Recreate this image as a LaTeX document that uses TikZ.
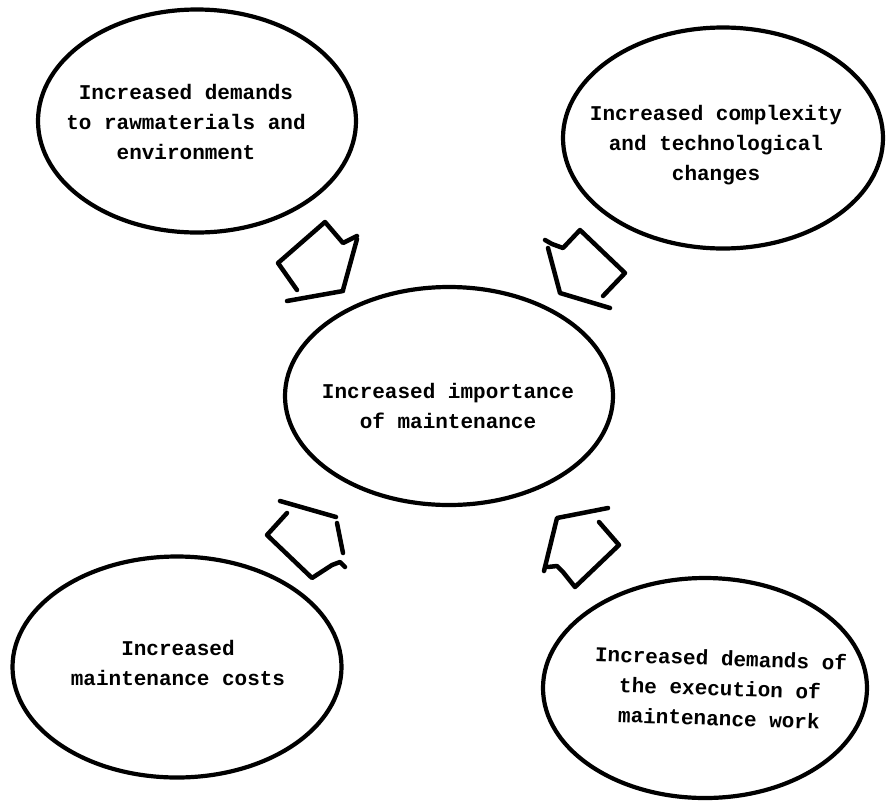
\documentclass[tikz,border=0pt]{standalone}
\usepackage{fontspec}
\newfontfamily\twfont{Liberation Mono}
\usetikzlibrary{shapes.geometric}
\tikzset{
  bubble/.style={draw=black, line width=4.2pt, ellipse, inner sep=0pt},
  label/.style={font=\twfont\bfseries\fontsize{21}{30}\selectfont, align=center, text=black, inner sep=0pt},
  sketch/.style={draw=black, line width=4.5pt, line cap=round, line join=round}
}
\begin{document}
\begin{tikzpicture}[x=1pt,y=-1pt]
\useasboundingbox (0,0) rectangle (891,801);
\fill[white] (0,0) rectangle (891,801);
% ellipses
\node[bubble, minimum width=318pt, minimum height=223pt] (tl) at (197,121) {};
\node[bubble, minimum width=320pt, minimum height=221pt] (tr) at (723,138) {};
\node[bubble, minimum width=328pt, minimum height=218pt] (mid) at (449,396) {};
\node[bubble, minimum width=329pt, minimum height=221pt] (bl) at (177,667) {};
\node[bubble, minimum width=324pt, minimum height=220pt] (br) at (705,688) {};
% texts
\node[label] (tltext) at (186,122) {Increased demands\\to rawmaterials and\\environment};
\node[label] (trtext) at (716,145) {Increased complexity\\and technological\\changes};
\node[label] (midtext) at (448,406) {Increased importance\\of maintenance};
\node[label] (bltext) at (178,663) {Increased\\maintenance costs};
\node[label, rotate=-2] (brtext) at (720,688) {Increased demands of\\the execution of\\maintenance work};
% hand-drawn block arrows
% top-left
\draw[sketch] (297,290) -- (278,263) -- (325,222) -- (343,243) -- (357,236);
\draw[sketch] (357,239) -- (343,290);
\draw[sketch] (287,301) -- (343,291);
% top-right
\draw[sketch] (545,240) -- (552,244) -- (563,248) -- (580,230) -- (625,273) -- (603,296);
\draw[sketch] (548,248) -- (560,293) -- (610,308);
% bottom-left
\draw[sketch] (280,501) -- (336,517);
\draw[sketch] (287,513) -- (267,535) -- (312,578) -- (332,565) -- (340,562) -- (345,567);
\draw[sketch] (337,523) -- (343,553);
% bottom-right
\draw[sketch] (608,508) -- (557,518) -- (544,571);
\draw[sketch] (548,567) -- (557,566) -- (563,572) -- (575,587) -- (619,545) -- (599,522);
\end{tikzpicture}
\end{document}
